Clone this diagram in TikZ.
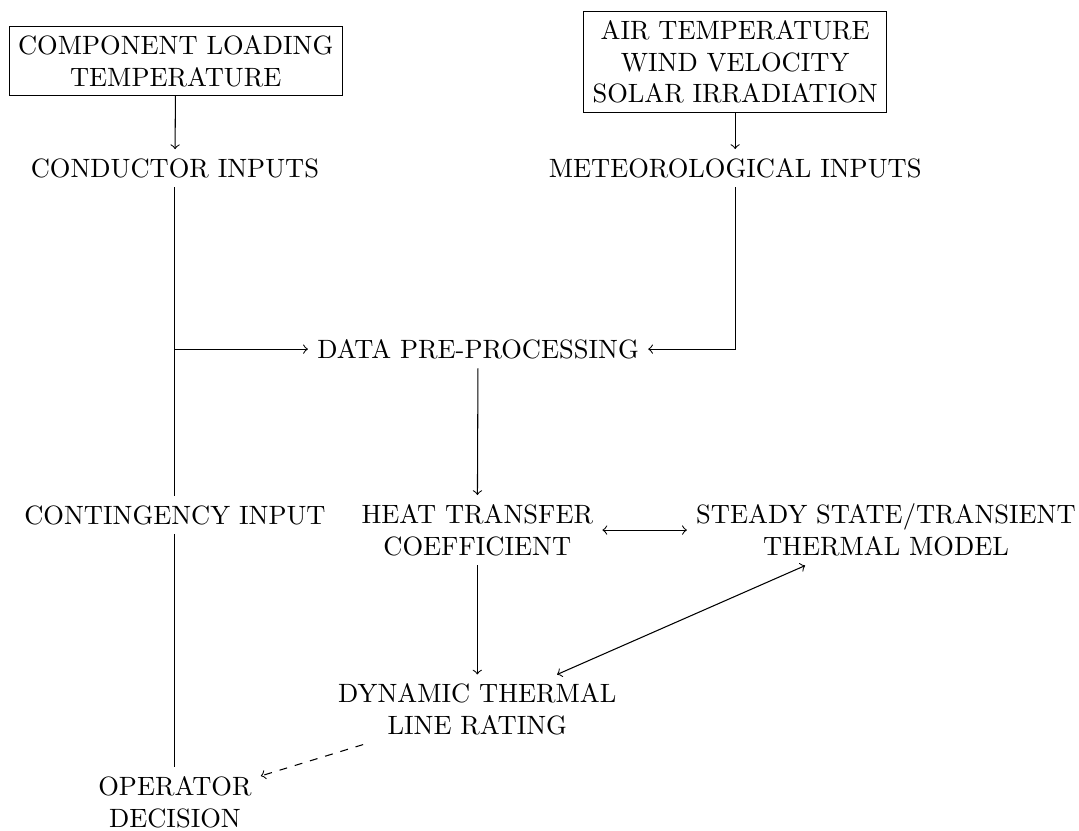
\documentclass[tikz,border=0pt]{standalone}
\usetikzlibrary{calc}
\usetikzlibrary{positioning}
\tikzset{inbox/.style={draw, align=center}, txt/.style={align=center}}

\begin{document}
\begin{tikzpicture}
    \useasboundingbox (0,0) rectangle (14.31,-11.02);
    \node[inbox] (CL) at (2.33,-0.81) {COMPONENT LOADING\\TEMPERATURE};
    \node[txt] (CI) at (2.32,-2.23) {CONDUCTOR INPUTS};
    \node[inbox] (AT) at (9.75,-0.82) {AIR TEMPERATURE\\WIND VELOCITY\\SOLAR IRRADIATION};
    \node[txt] (MI) at (9.75,-2.23) {METEOROLOGICAL INPUTS};
    \node[txt] (DP) at (6.34,-4.63) {DATA PRE-PROCESSING};
    \node[txt] (CG) at (2.32,-6.83) {CONTINGENCY INPUT};
    \node[txt] (HT) at (6.33,-7.03) {HEAT TRANSFER\\COEFFICIENT};
    \node[txt] (TM) at (11.75,-7.03) {STEADY STATE/TRANSIENT\\THERMAL MODEL};
    \node[txt] (DT) at (6.33,-9.41) {DYNAMIC THERMAL\\LINE RATING};
    \node[txt] (OD) at (2.32,-10.64) {OPERATOR\\DECISION};
    \coordinate (J) at (CI.south |- DP.west);

    \draw[->] (CL) -- (CI);
    \draw[->] (AT) -- (MI);
    \draw (CI) -- (CG);
    \draw (CG) -- (OD);
    \draw[->] (J) -- (DP);
    \draw[->] (MI.south) |- (DP.east);
    \draw[->] (DP) -- (HT);
    \draw[<->] (HT) -- (TM);
    \draw[->] (HT) -- (DT);
    \draw[<->] (TM) -- (DT);
    \draw[dashed,->] (DT) -- (OD);
  \end{tikzpicture}
\end{document}
